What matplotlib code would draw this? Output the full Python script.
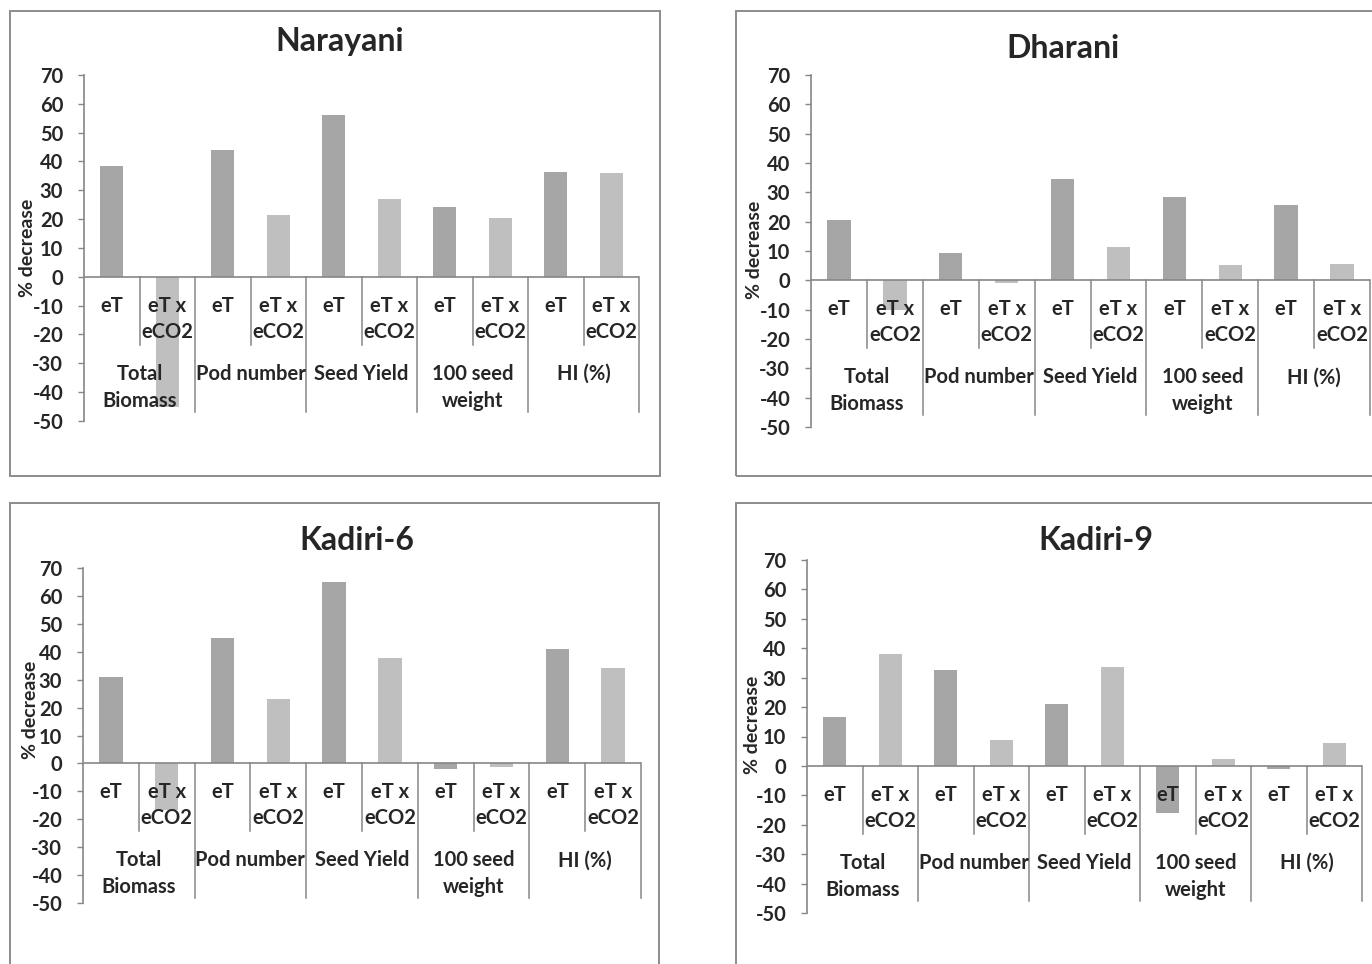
import matplotlib
matplotlib.use("Agg")
import matplotlib.pyplot as plt
from matplotlib.patches import Rectangle
import numpy as np

plt.rcParams['font.family'] = ['Lato', 'DejaVu Sans']

groups = ["Total\nBiomass", "Pod number", "Seed Yield", "100 seed\nweight", "HI (%)"]
treatments = ["eT", "eT x\neCO2"]
yticks = [-50, -40, -30, -20, -10, 0, 10, 20, 30, 40, 50, 60, 70]

titles = ["Narayani", "Dharani", "Kadiri-6", "Kadiri-9"]
narayani_eT = [38.4, 43.9, 56.3, 24.2, 36.4]
narayani_eTxCO2 = [-45.0, 21.5, 26.9, 20.3, 36.0]
dharani_eT = [20.4, 9.4, 34.5, 28.4, 25.6]
dharani_eTxCO2 = [-10.2, -0.8, 11.3, 5.3, 5.7]
kadiri6_eT = [31.0, 44.9, 65.0, -2.1, 41.1]
kadiri6_eTxCO2 = [-16.7, 23.1, 37.7, -1.4, 34.3]
kadiri9_eT = [16.6, 32.5, 21.0, -16.1, -0.9]
kadiri9_eTxCO2 = [38.2, 8.8, 33.6, 2.3, 7.7]

series = [(narayani_eT, narayani_eTxCO2), (dharani_eT, dharani_eTxCO2),
          (kadiri6_eT, kadiri6_eTxCO2), (kadiri9_eT, kadiri9_eTxCO2)]

W, H = 1372, 964
fig = plt.figure(figsize=(W / 100, H / 100), dpi=100)

# pixel layouts: axes (left, right, top, bottom); frame box; title pos; ylabel pos
axes_px = [(84, 639, 75, 421), (811, 1370, 75, 427), (83, 641, 568, 903), (807, 1362, 560, 913)]
box_px = [(10, 660, 11, 476), (736, 1420, 11, 476), (10, 659, 503, 1010), (736, 1420, 503, 1010)]
title_px = [(340, 42), (1063, 49), (357, 540), (1096, 540)]
ylab_px = [(28, 248), (754, 250), (30, 710), (753, 725)]

col_eT = '#a6a6a6'
col_co2 = '#bfbfbf'
axcol = '#868686'
txtcol = '#262626'

for b in box_px:
    l, r, t, bt = b
    fig.patches.append(Rectangle((l / W, 1 - bt / H), (r - l) / W, (bt - t) / H,
                                 transform=fig.transFigure, fill=False,
                                 edgecolor='#8c8c8c', linewidth=1.4, zorder=0))

for i in range(4):
    l, r, t, bt = axes_px[i]
    ax = fig.add_axes([l / W, 1 - bt / H, (r - l) / W, (bt - t) / H])
    ax.set_facecolor('none')
    eT, co2 = series[i]
    n = len(groups)
    x = np.arange(2 * n)
    vals = []
    cols = []
    for g in range(n):
        vals += [eT[g], co2[g]]
        cols += [col_eT, col_co2]
    ax.bar(x, vals, width=0.42, color=cols, zorder=2)
    ax.set_xlim(-0.5, 2 * n - 0.5)
    ax.set_ylim(-50, 70)
    ax.set_yticks(yticks)
    ax.set_yticklabels([str(v) for v in yticks], fontsize=14.5, fontweight='bold', color=txtcol)
    ax.tick_params(axis='y', length=4, width=1, color=axcol, pad=11)
    ax.set_xticks([])
    for s in ['top', 'right', 'bottom']:
        ax.spines[s].set_visible(False)
    ax.spines['left'].set_color(axcol)
    ax.spines['left'].set_linewidth(1.2)
    ax.axhline(0, color=axcol, linewidth=1.2, zorder=3)

    ppu = (bt - t) / 120.0  # pixels per data unit
    def dy(px):
        return -px / ppu

    # category text
    for k in range(2 * n):
        lines = treatments[k % 2].split("\n")
        for j, ln in enumerate(lines):
            ax.text(k, dy(29 + 26 * j), ln, ha='center', va='center', fontsize=14.5,
                    fontweight='bold', color=txtcol, zorder=5, clip_on=False)
    for g in range(n):
        lines = groups[g].split("\n")
        for j, ln in enumerate(lines):
            ax.text(2 * g + 0.5, dy(97 + 27 * j), ln, ha='center', va='center', fontsize=14.5,
                    fontweight='bold', color=txtcol, zorder=5, clip_on=False)
        # short divider between eT and eTxeCO2
        ax.plot([2 * g + 0.5, 2 * g + 0.5], [0, dy(68)], color=axcol, linewidth=1.1,
                clip_on=False, zorder=3)
        # tall group divider at right edge of the group
        ax.plot([2 * g + 1.5, 2 * g + 1.5], [0, dy(135)], color=axcol, linewidth=1.1,
                clip_on=False, zorder=3)

    tx, ty = title_px[i]
    fig.text(tx / W, 1 - ty / H, titles[i], ha='center', va='center', fontsize=23,
             fontweight='bold', color=txtcol)
    lx, ly = ylab_px[i]
    fig.text(lx / W, 1 - ly / H, "% decrease", ha='center', va='center', rotation=90,
             fontsize=14, fontweight='bold', color=txtcol)

fig.savefig("out.png", dpi=100)
